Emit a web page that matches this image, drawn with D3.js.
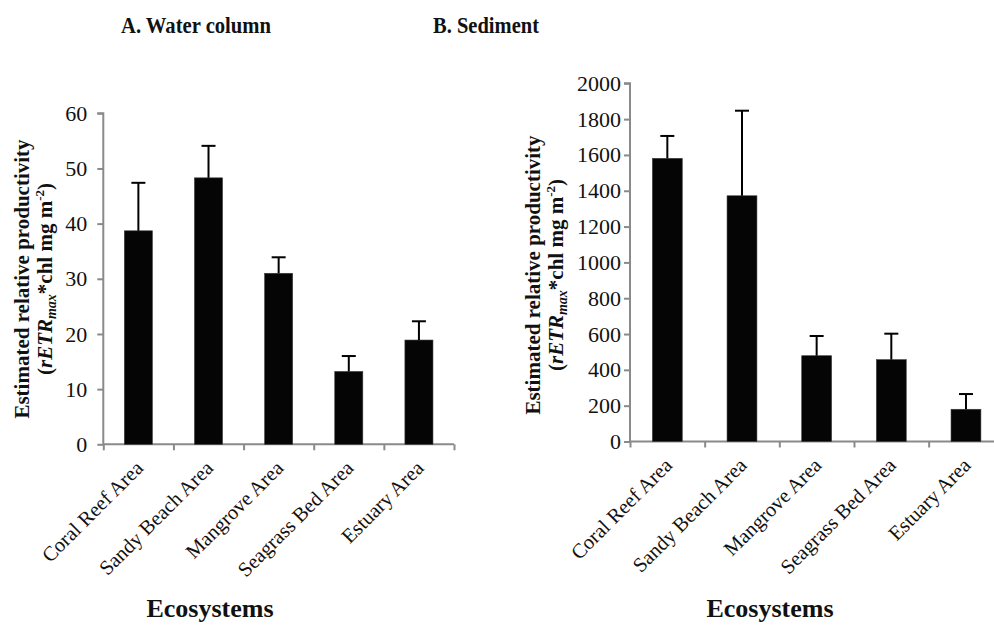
<!DOCTYPE html>
<html>
<head>
<meta charset="utf-8">
<script src="https://cdn.jsdelivr.net/npm/d3@7/dist/d3.min.js"></script>
<style>
  html, body { margin: 0; padding: 0; background: #fff; }
  svg { display: block; }
  svg text { font-family: "Liberation Serif", "Times New Roman", serif; }
</style>
</head>
<body>
<svg id="chart" width="994" height="625"></svg>
<script>
const categories = ["Coral Reef Area", "Sandy Beach Area", "Mangrove Area", "Seagrass Bed Area", "Estuary Area"];
const waterValues = [38.7, 48.3, 31.0, 13.2, 18.9];
const waterErrors = [8.7, 5.8, 2.9, 2.8, 3.4];
const sedimentValues = [1581, 1372, 479, 457, 180];
const sedimentErrors = [125, 475, 110, 145, 85];
const waterTicks = [0, 10, 20, 30, 40, 50, 60];
const sedimentTicks = [0, 200, 400, 600, 800, 1000, 1200, 1400, 1600, 1800, 2000];
const panelTitles = ["A. Water column", "B. Sediment"];
const xTitle = "Ecosystems";

const svg = d3.select("#chart");
const FONT = "'Liberation Serif', 'Times New Roman', serif";

function panel(cfg) {
  const g = svg.append("g");
  const x = d3.scaleBand().domain(categories).range(cfg.xr).paddingInner(0.6).paddingOuter(0.3);
  const xEdge = d3.scaleLinear().domain([0, categories.length]).range(cfg.xr);
  const y = d3.scaleLinear().domain([0, cfg.max]).range(cfg.yr);

  // y axis
  const ya = g.append("g").attr("transform", `translate(${cfg.xr[0]},0)`)
    .call(d3.axisLeft(y).tickValues(cfg.ticks).tickSize(6).tickPadding(cfg.tickPad).tickFormat(d3.format("d")));
  ya.attr("font-family", FONT);
  ya.selectAll("path, line").attr("stroke", "#8a8a8a").attr("stroke-width", 2);
  ya.select("path").attr("d", `M-6,${cfg.yr[1]}H0V${cfg.yr[0]}`);
  ya.selectAll("text").attr("font-size", 22).attr("fill", "#111").style("font-family", FONT);

  // x axis (ticks at category boundaries)
  const xa = g.append("g").attr("transform", `translate(0,${cfg.yr[0]})`)
    .call(d3.axisBottom(xEdge).tickValues(d3.range(categories.length + 1)).tickSize(6).tickFormat(""));
  xa.selectAll("path, line").attr("stroke", "#8a8a8a").attr("stroke-width", 2);
  xa.select("path").attr("d", `M${cfg.xr[0]},0H${cfg.xr[1]}`);

  // bars
  g.selectAll("rect.bar").data(cfg.values).join("rect").attr("class", "bar")
    .attr("x", (d, i) => x(categories[i]))
    .attr("width", x.bandwidth())
    .attr("y", d => y(d))
    .attr("height", d => y(0) - y(d))
    .attr("fill", "#050505").attr("stroke", "#3a3a3a").attr("stroke-width", 0.6);

  // error bars (upper only)
  const eg = g.append("g").attr("stroke", "#000").attr("stroke-width", 2);
  cfg.values.forEach((v, i) => {
    const cx = x(categories[i]) + x.bandwidth() / 2;
    eg.append("line").attr("x1", cx).attr("x2", cx).attr("y1", y(v)).attr("y2", y(v + cfg.errors[i]));
    eg.append("line").attr("x1", cx - 7).attr("x2", cx + 7).attr("y1", y(v + cfg.errors[i])).attr("y2", y(v + cfg.errors[i]));
  });

  // x labels rotated
  g.selectAll("text.xl").data(categories).join("text").attr("class", "xl")
    .attr("transform", d => `translate(${x(d) + x.bandwidth() / 2 + 6},${cfg.yr[0] + 25}) rotate(-45)`)
    .attr("text-anchor", "end")
    .attr("font-size", 20.5).attr("fill", "#111")
    .text(d => d);

  // x title
  g.append("text").attr("x", cfg.xTitleX).attr("y", 617).attr("text-anchor", "middle")
    .attr("font-size", 26).attr("font-weight", "bold").attr("fill", "#111").text(xTitle);

  // panel title
  g.append("text").attr("x", cfg.titleX).attr("y", 33).attr("text-anchor", "start")
    .attr("font-size", 23).attr("font-weight", "bold").attr("fill", "#111")
    .attr("textLength", cfg.titleLen).attr("lengthAdjust", "spacingAndGlyphs")
    .text(cfg.title);

  // y title
  const cy = cfg.yTitleY;
  const yt = g.append("g").attr("transform", `translate(${cfg.yTitleX},${cy}) rotate(-90)`);
  yt.append("text").attr("x", 0).attr("y", 0).attr("text-anchor", "middle")
    .attr("font-size", 21).attr("font-weight", "bold").attr("fill", "#111")
    .text("Estimated relative productivity");
  const t2 = yt.append("text").attr("x", 0).attr("y", 23).attr("text-anchor", "middle")
    .attr("font-size", 21).attr("font-weight", "bold").attr("fill", "#111");
  t2.append("tspan").text("(");
  t2.append("tspan").attr("font-style", "italic").text("rETR");
  t2.append("tspan").attr("font-style", "italic").attr("font-size", 14).attr("dy", 4).text("max");
  t2.append("tspan").attr("dy", -4).text("*chl mg m");
  t2.append("tspan").attr("font-size", 13).attr("dy", -8).text("-2");
  t2.append("tspan").attr("dy", 8).text(")");
}

panel({
  xr: [103.3, 454], yr: [444.3, 113.3], max: 60, ticks: waterTicks, tickPad: 10,
  values: waterValues, errors: waterErrors, title: panelTitles[0], titleX: 121, titleLen: 150,
  xTitleX: 210, yTitleX: 29, yTitleY: 279
});
panel({
  xr: [630, 1003.3], yr: [441.5, 83.3], max: 2000, ticks: sedimentTicks, tickPad: 3,
  values: sedimentValues, errors: sedimentErrors, title: panelTitles[1], titleX: 433, titleLen: 106,
  xTitleX: 770, yTitleX: 540, yTitleY: 275
});
</script>
</body>
</html>
